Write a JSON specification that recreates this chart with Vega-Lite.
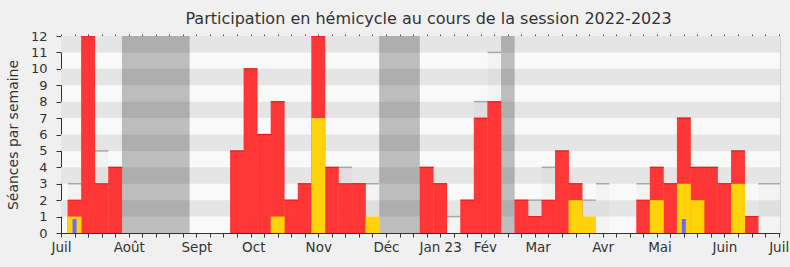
{
  "$schema": "https://vega.github.io/schema/vega-lite/v6.json",
  "width": 719,
  "height": 197,
  "autosize": {"type": "none"},
  "padding": {"left": 61, "top": 36, "right": 10, "bottom": 34},
  "background": "#F0F0F0",
  "view": {"fill": "#F9F9F9", "stroke": null},
  "config": {"font": "DejaVu Sans"},
  "title": {
    "text": "Participation en hémicycle au cours de la session 2022-2023",
    "font": "DejaVu Sans",
    "fontSize": 16,
    "fontWeight": "normal",
    "color": "#333333",
    "anchor": "middle",
    "frame": "group",
    "offset": 3,
    "dx": 8
  },
  "datasets": {
    "bands": [
      {"lo": 1, "hi": 2}, {"lo": 3, "hi": 4}, {"lo": 5, "hi": 6},
      {"lo": 7, "hi": 8}, {"lo": 9, "hi": 10}, {"lo": 11, "hi": 12}
    ],
    "vac": [
      {"from": 4.5, "to": 9.5},
      {"from": 23.5, "to": 26.5},
      {"from": 32.5, "to": 33.5}
    ],
    "weeks": [
      {"week": 1, "red": 2, "yellow": 1, "blue": 0.85, "total": 3},
      {"week": 2, "red": 12, "total": 12},
      {"week": 3, "red": 3, "total": 5},
      {"week": 4, "red": 4, "total": 4},
      {"week": 13, "red": 5, "total": 5},
      {"week": 14, "red": 10, "total": 10},
      {"week": 15, "red": 6, "total": 6},
      {"week": 16, "red": 8, "yellow": 1, "total": 8},
      {"week": 17, "red": 2, "total": 2},
      {"week": 18, "red": 3, "total": 3},
      {"week": 19, "red": 12, "yellow": 7, "total": 12},
      {"week": 20, "red": 4, "total": 4},
      {"week": 21, "red": 3, "total": 4},
      {"week": 22, "red": 3, "total": 3},
      {"week": 23, "yellow": 1, "total": 3},
      {"week": 27, "red": 4, "total": 4},
      {"week": 28, "red": 3, "total": 3},
      {"week": 29, "total": 1},
      {"week": 30, "red": 2, "total": 2},
      {"week": 31, "red": 7, "total": 8},
      {"week": 32, "red": 8, "total": 11},
      {"week": 34, "red": 2, "total": 2},
      {"week": 35, "red": 1, "total": 2},
      {"week": 36, "red": 2, "total": 4},
      {"week": 37, "red": 5, "total": 5},
      {"week": 38, "red": 3, "yellow": 2, "total": 3},
      {"week": 39, "yellow": 1, "total": 2},
      {"week": 40, "total": 3},
      {"week": 43, "red": 2, "total": 3},
      {"week": 44, "red": 4, "yellow": 2, "total": 4},
      {"week": 45, "red": 3, "total": 3},
      {"week": 46, "red": 7, "yellow": 3, "blue": 0.85, "total": 7},
      {"week": 47, "red": 4, "yellow": 2, "total": 4},
      {"week": 48, "red": 4, "total": 4},
      {"week": 49, "red": 3, "total": 3},
      {"week": 50, "red": 5, "yellow": 3, "total": 5},
      {"week": 51, "red": 1, "total": 1},
      {"week": 52, "total": 3},
      {"week": 53, "total": 3}
    ]
  },
  "resolve": {"axis": {"x": "independent", "y": "independent"}},
  "layer": [
    {
      "data": {"name": "bands"},
      "mark": {"type": "rect", "color": "#E5E5E5"},
      "encoding": {
        "y": {
          "field": "lo", "type": "quantitative",
          "scale": {"domain": [0, 12], "nice": false, "zero": true, "padding": 0},
          "axis": {
            "orient": "left", "values": [0,1,2,3,4,5,6,7,8,9,10,11,12],
            "title": "Séances par semaine", "titleFontSize": 14, "titleFontWeight": "normal",
            "titleColor": "#333333", "titlePadding": 10,
            "labelFontSize": 13, "labelColor": "#333333", "labelPadding": 9,
            "tickSize": 5, "tickColor": "#333333", "domainColor": "#333333",
            "grid": false, "labelFlush": false
          }
        },
        "y2": {"field": "hi"}
      }
    },
    {
      "data": {"name": "vac"},
      "mark": {"type": "rect", "color": "#000000", "opacity": 0.24, "clip": true},
      "encoding": {
        "x": {
          "field": "from", "type": "quantitative",
          "scale": {"domain": [0, 53.1], "nice": false, "zero": false, "padding": 0},
          "axis": {
            "orient": "bottom", "values": [0,1,2,3,4,5,6,7,8,9,10,11,12,13,14,15,16,17,18,19,20,21,22,23,24,25,26,27,28,29,30,31,32,33,34,35,36,37,38,39,40,41,42,43,44,45,46,47,48,49,50,51,52,53],
            "labels": false, "title": null, "grid": false,
            "tickSize": 4, "tickColor": "#333333", "domainColor": "#333333"
          }
        },
        "x2": {"field": "to"},
        "y": {"datum": 12, "type": "quantitative", "axis": null},
        "y2": {"datum": 0}
      }
    },
    {
      "data": {"name": "weeks"},
      "mark": {"type": "bar", "orient": "vertical", "color": "#000000", "opacity": 0.025, "width": 13.54, "clip": true},
      "encoding": {
        "x": {
          "field": "week", "type": "quantitative",
          "axis": {
            "orient": "bottom", "values": [0, 5, 10, 14.2, 19, 24, 28, 31.3, 35.2, 40, 44.2, 49, 53],
            "ticks": false, "domain": false, "grid": false, "title": null,
            "labelExpr": "datum.value < 2 ? 'Juil' : datum.value < 7 ? 'Août' : datum.value < 12 ? 'Sept' : datum.value < 16 ? 'Oct' : datum.value < 21 ? 'Nov' : datum.value < 26 ? 'Déc' : datum.value < 30 ? 'Jan 23' : datum.value < 33 ? 'Fév' : datum.value < 37 ? 'Mar' : datum.value < 42 ? 'Avr' : datum.value < 46 ? 'Mai' : datum.value < 51 ? 'Juin' : 'Juil'",
            "labelFontSize": 13.5, "labelColor": "#333333", "labelPadding": 7,
            "labelFlush": false, "labelOverlap": false, "labelBound": false
          }
        },
        "y": {"field": "total", "type": "quantitative", "stack": null, "axis": null}
      }
    },
    {
      "data": {"name": "weeks"},
      "mark": {"type": "tick", "orient": "horizontal", "color": "#A8A8A8", "size": 13.54, "thickness": 1.5, "opacity": 1, "clip": true},
      "encoding": {
        "x": {
          "field": "week", "type": "quantitative",
          "axis": {
            "orient": "top", "values": [0,1,2,3,4,5,6,7,8,9,10,11,12,13,14,15,16,17,18,19,20,21,22,23,24,25,26,27,28,29,30,31,32,33,34,35,36,37,38,39,40,41,42,43,44,45,46,47,48,49,50,51,52,53],
            "labels": false, "domain": false, "title": null, "grid": false,
            "tickSize": 2, "tickColor": "#444444"
          }
        },
        "y": {"field": "total", "type": "quantitative", "axis": null}
      }
    },
    {
      "data": {"name": "weeks"},
      "mark": {"type": "bar", "orient": "vertical", "color": "#FF3636", "opacity": 1, "width": 13.9, "clip": true},
      "encoding": {
        "x": {"field": "week", "type": "quantitative", "axis": null},
        "y": {
          "field": "red", "type": "quantitative", "stack": null,
          "axis": {
            "orient": "right", "labels": false, "ticks": false, "title": null, "grid": false,
            "domain": true, "domainColor": "#D2D2D2"
          }
        }
      }
    },
    {
      "data": {"name": "weeks"},
      "mark": {"type": "tick", "orient": "horizontal", "color": "#F01010", "size": 13.9, "thickness": 1, "opacity": 1, "clip": true},
      "encoding": {
        "x": {"field": "week", "type": "quantitative", "axis": null},
        "y": {"field": "red", "type": "quantitative", "axis": null}
      }
    },
    {
      "data": {"name": "weeks"},
      "mark": {"type": "bar", "orient": "vertical", "color": "#FFD20A", "opacity": 1, "width": 13.9, "clip": true},
      "encoding": {
        "x": {"field": "week", "type": "quantitative", "axis": null},
        "y": {"field": "yellow", "type": "quantitative", "stack": null, "axis": null}
      }
    },
    {
      "data": {"name": "weeks"},
      "mark": {"type": "bar", "orient": "vertical", "color": "#6A6AFF", "opacity": 1, "width": 4, "clip": true},
      "encoding": {
        "x": {"field": "week", "type": "quantitative", "axis": null},
        "y": {"field": "blue", "type": "quantitative", "stack": null, "axis": null}
      }
    }
  ]
}
